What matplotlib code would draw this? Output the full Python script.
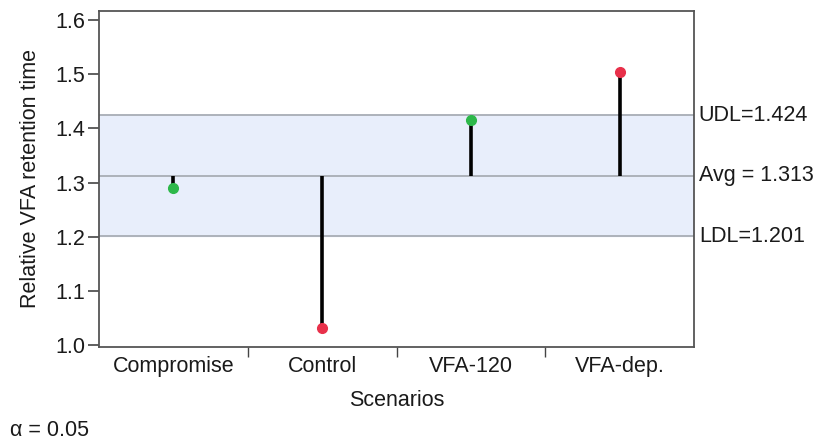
import matplotlib
matplotlib.use("Agg")
import matplotlib.pyplot as plt

scenarios = ["Compromise", "Control", "VFA-120", "VFA-dep."]
values = [1.290, 1.031, 1.415, 1.505]
point_colors = ["#2DB84A", "#E8304A", "#2DB84A", "#E8304A"]
avg = 1.313
udl = 1.424
ldl = 1.201
yticks = [1.0, 1.1, 1.2, 1.3, 1.4, 1.5, 1.6]

plt.rcParams['font.family'] = ['Liberation Sans', 'DejaVu Sans']
fs = 15.5
txt = "#1a1a1a"

fig = plt.figure(figsize=(8.19, 4.41), dpi=100)
ax = fig.add_axes([99/819, 1-346.5/441, 595/819, 335.5/441])

ax.set_xlim(0, len(scenarios))
ax.set_ylim(0.997, 1.617)

ax.axhspan(ldl, udl, color="#E8EEFB", zorder=0)
for v in (udl, avg, ldl):
    ax.axhline(v, color="#A8ADB5", lw=1.3, zorder=1)

xs = [i + 0.5 for i in range(len(scenarios))]
for x, v, c in zip(xs, values, point_colors):
    ax.plot([x, x], [avg, v], color="black", lw=2.6, zorder=2, solid_capstyle="butt")
    ax.plot([x], [v], "o", color=c, ms=7, mec=c, zorder=3)

ax.set_yticks(yticks)
ax.set_yticklabels([f"{t:.1f}" for t in yticks], fontsize=fs, color=txt)
ax.tick_params(axis="y", direction="out", length=8, width=1.2, color="#444444", pad=2)

ax.set_xticks([1, 2, 3])
ax.set_xticklabels([])
ax.set_xticks(xs, minor=True)
ax.set_xticklabels(scenarios, minor=True, fontsize=fs, color=txt)
ax.tick_params(axis="x", which="major", direction="out", length=7, width=1.0, color="#444444")
ax.tick_params(axis="x", which="minor", length=0, pad=7)

for s in ax.spines.values():
    s.set_color("#555555")
    s.set_linewidth(1.3)

ax.set_ylabel("Relative VFA retention time", fontsize=fs, color=txt, labelpad=10)
ax.set_xlabel("Scenarios", fontsize=fs, color=txt, labelpad=9)

for v, lab in ((udl, f"UDL={udl:.3f}"), (avg, f"Avg = {avg:.3f}"), (ldl, f"LDL={ldl:.3f}")):
    ax.text(1.008, v, lab, transform=ax.get_yaxis_transform(), ha="left", va="center",
            fontsize=fs, color=txt)

fig.text(10/819, 1-430/441, "α = 0.05", fontsize=fs, color=txt, ha="left", va="center")

fig.savefig("out.png", dpi=100)
